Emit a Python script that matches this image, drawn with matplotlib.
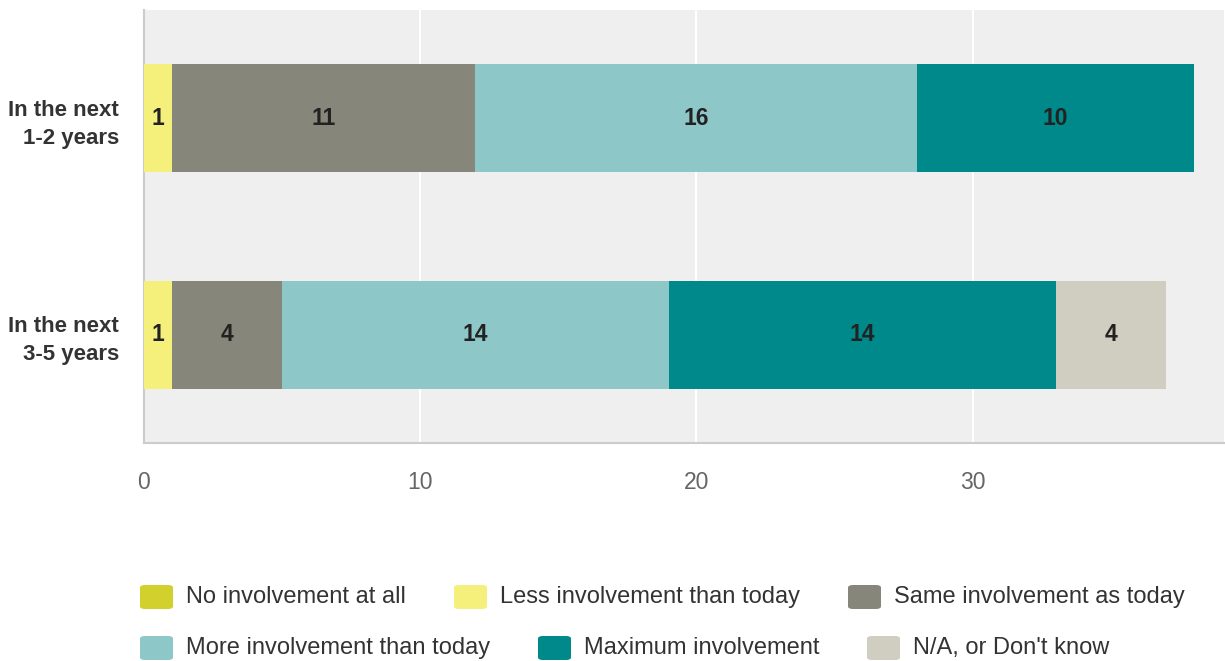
import matplotlib.pyplot as plt
from matplotlib.patches import FancyBboxPatch

plt.rcParams['font.family'] = ['Liberation Sans', 'DejaVu Sans']

periods = ['In the next\n1-2 years', 'In the next\n3-5 years']
categories = ['No involvement at all', 'Less involvement than today',
              'Same involvement as today', 'More involvement than today',
              'Maximum involvement', "N/A, or Don't know"]
counts = {
    'No involvement at all': [0, 0],
    'Less involvement than today': [1, 1],
    'Same involvement as today': [11, 4],
    'More involvement than today': [16, 14],
    'Maximum involvement': [10, 14],
    "N/A, or Don't know": [0, 4],
}
colors = ['#d2d02c', '#f5f07c', '#86877a', '#8ec7c8', '#00898a', '#d0cec0']
xticks = [0, 10, 20, 30]

fig = plt.figure(figsize=(12.25, 6.61), dpi=100)
ax = fig.add_axes([144 / 1225, 1 - 443 / 661, 1080 / 1225, 433 / 661])
ax.set_facecolor('#efefef')

ypos = list(range(len(periods)))
left = [0] * len(periods)
for cat, col in zip(categories, colors):
    vals = counts[cat]
    ax.barh(ypos, vals, left=left, height=0.5, color=col, zorder=3)
    for y, v, l in zip(ypos, vals, left):
        if v > 0:
            ax.text(l + v / 2, y, str(v), ha='center', va='center',
                    fontsize=16.5, fontweight='bold', color='#222222', zorder=4)
    left = [l + v for l, v in zip(left, vals)]

ax.set_xlim(0, 39.1)
ax.set_ylim(1.5, -0.5)
ax.set_xticks(xticks)
ax.set_yticks(ypos)
ax.set_yticklabels(periods, fontsize=16, fontweight='bold', color='#333333',
                   linespacing=1.45)
ax.tick_params(axis='x', length=0, pad=20, labelsize=16.5, labelcolor='#666666')
ax.tick_params(axis='y', length=0, pad=18)
ax.grid(axis='x', color='white', linewidth=1.5, zorder=1)
for side in ['top', 'right']:
    ax.spines[side].set_visible(False)
for side in ['left', 'bottom']:
    ax.spines[side].set_color('#cccccc')
    ax.spines[side].set_linewidth(1.5)

# flow-style legend, two rows
legend_pos = [(140, 597), (454, 597), (848, 597),
              (140, 648), (538, 648), (867, 648)]
W, H = 1225, 661
for (px, py), cat, col in zip(legend_pos, categories, colors):
    box = FancyBboxPatch((px / W, 1 - (py + 12) / H), 33 / W, 24 / H,
                         boxstyle='round,pad=0,rounding_size=0.004',
                         transform=fig.transFigure, facecolor=col,
                         edgecolor='none')
    fig.patches.append(box)
    fig.text((px + 46) / W, 1 - py / H, cat, ha='left', va='center',
             fontsize=17, color='#333333')

fig.savefig('out.png', dpi=100)
